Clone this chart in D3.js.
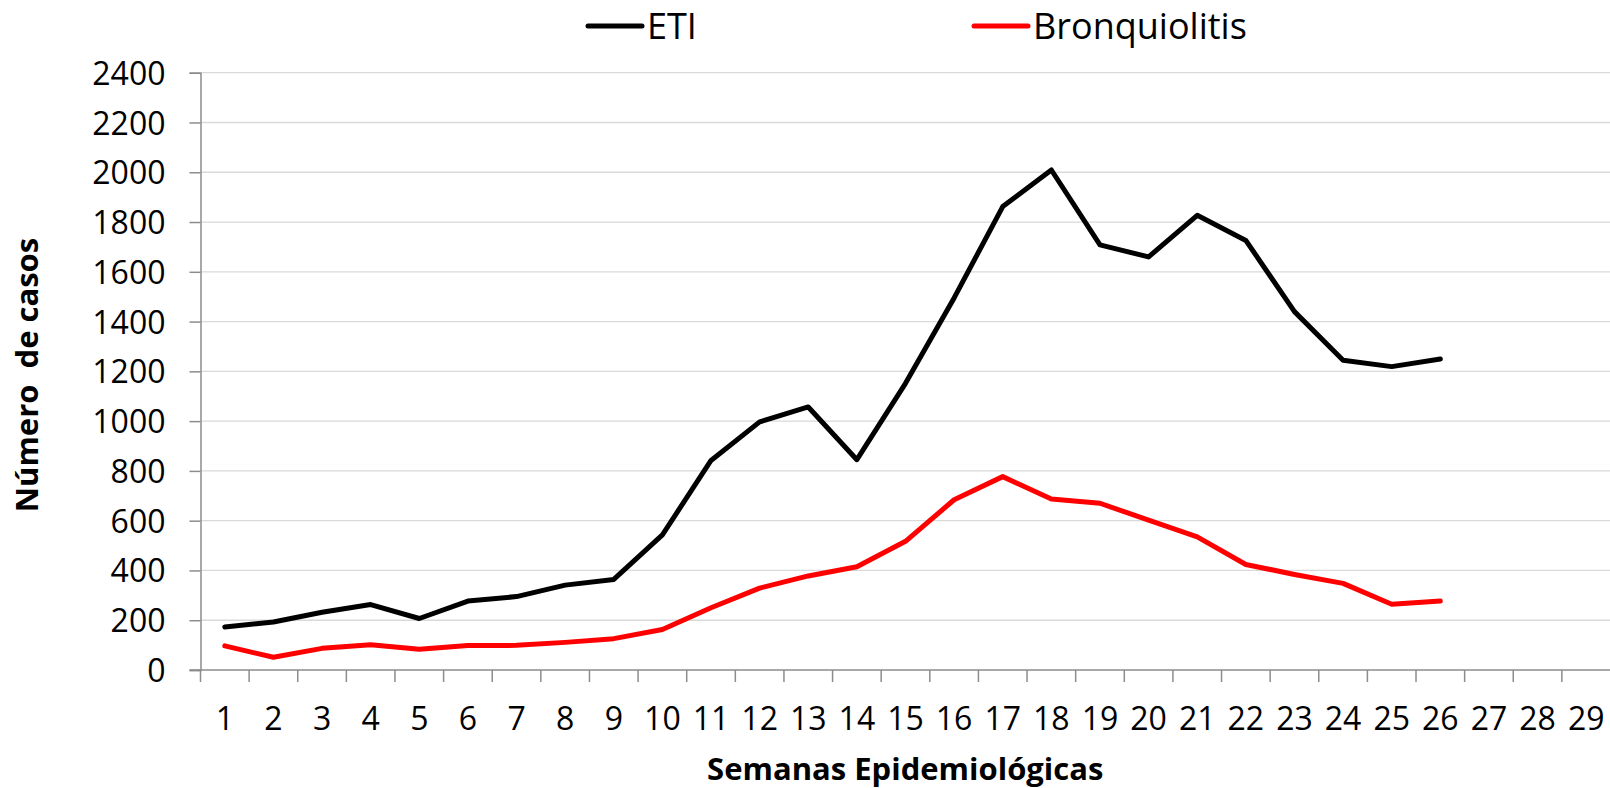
<!DOCTYPE html>
<html>
<head>
<meta charset="utf-8">
<script src="https://cdn.jsdelivr.net/npm/d3@7"></script>
<style>
  html, body { margin: 0; padding: 0; background: #fff; }
  svg { display: block; font-family: "Open Sans", sans-serif; }
  text { white-space: pre; }
</style>
</head>
<body>
<svg id="chart" width="1610" height="788"></svg>
<script>
// semanas epidemiológicas 1..29
const weeks = d3.range(1, 30).map(String);
const yTicks = [0, 200, 400, 600, 800, 1000, 1200, 1400, 1600, 1800, 2000, 2200, 2400];

// valores (semanas 1..26)
const eti = [173, 193, 232, 263, 207, 277, 295, 341, 364, 543, 842, 997, 1057, 845, 1152, 1495,
             1862, 2009, 1708, 1660, 1827, 1726, 1440, 1245, 1219, 1250];
const bronquiolitis = [97, 51, 87, 101, 83, 98, 99, 111, 126, 163, 250, 329, 378, 415, 517, 684,
                       777, 687, 670, 602, 535, 424, 384, 348, 264, 277];

const seriesNames = ["ETI", "Bronquiolitis"];
const seriesColors = ["#000000", "#ff0000"];

const svg = d3.select("#chart");
const margin = {top: 72.7, right: 0, bottom: 118, left: 200.5};
const width = 1610, height = 788;

const x = d3.scaleBand()
    .domain(weeks)
    .range([margin.left, 1610.5]);

const y = d3.scaleLinear()
    .domain([0, 2400])
    .range([670, margin.top]);

// gridlines
svg.append("g")
    .selectAll("line")
    .data(yTicks.filter(d => d > 0))
    .join("line")
    .attr("x1", margin.left)
    .attr("x2", width)
    .attr("y1", d => y(d))
    .attr("y2", d => y(d))
    .attr("stroke", "#d9d9d9")
    .attr("stroke-width", 1.3);

// eje Y
const yAxis = svg.append("g")
    .attr("transform", `translate(${margin.left},0)`)
    .call(d3.axisLeft(y).tickValues(yTicks).tickFormat(d3.format("d")).tickSize(11).tickPadding(24));
yAxis.select(".domain").attr("stroke", "#8c8c8c").attr("stroke-width", 1.5);
yAxis.selectAll(".tick line").attr("stroke", "#8c8c8c").attr("stroke-width", 1.5);
yAxis.selectAll(".tick text")
    .attr("font-family", "Open Sans")
    .attr("font-size", 32)
    .attr("fill", "#000")
    .attr("dy", "0.36em");

// eje X (ticks entre categorías)
const xAxis = svg.append("g")
    .attr("transform", `translate(0,${y(0)})`);
xAxis.append("line")
    .attr("x1", margin.left - 11)
    .attr("x2", width)
    .attr("stroke", "#8c8c8c")
    .attr("stroke-width", 1.5);
xAxis.selectAll(".xtick")
    .data(weeks)
    .join("line")
    .attr("class", "xtick")
    .attr("x1", d => x(d))
    .attr("x2", d => x(d))
    .attr("y1", 0)
    .attr("y2", 12)
    .attr("stroke", "#8c8c8c")
    .attr("stroke-width", 1.5);
xAxis.selectAll(".xlabel")
    .data(weeks)
    .join("text")
    .attr("class", "xlabel")
    .attr("x", d => x(d) + x.bandwidth() / 2)
    .attr("y", 60)
    .attr("text-anchor", "middle")
    .attr("font-size", 32)
    .attr("fill", "#000")
    .text(d => d);

// líneas
const line = d3.line()
    .x((d, i) => x(weeks[i]) + x.bandwidth() / 2)
    .y(d => y(d));

[eti, bronquiolitis].forEach((vals, k) => {
    svg.append("path")
        .datum(vals)
        .attr("fill", "none")
        .attr("stroke", seriesColors[k])
        .attr("stroke-width", 5)
        .attr("stroke-linejoin", "round")
        .attr("stroke-linecap", "round")
        .attr("d", line);
});

// títulos de ejes
svg.append("text")
    .attr("x", (margin.left + width) / 2)
    .attr("y", 780)
    .attr("text-anchor", "middle")
    .attr("font-size", 31)
    .attr("font-weight", "bold")
    .text("Semanas Epidemiológicas");

svg.append("text")
    .attr("transform", "translate(38,375) rotate(-90)")
    .attr("text-anchor", "middle")
    .attr("font-size", 31)
    .attr("font-weight", "bold")
    .text("Número  de casos");

// leyenda
const legendX = [588, 974];
const legend = svg.append("g");
seriesNames.forEach((name, k) => {
    legend.append("line")
        .attr("x1", legendX[k])
        .attr("x2", legendX[k] + 54)
        .attr("y1", 26)
        .attr("y2", 26)
        .attr("stroke", seriesColors[k])
        .attr("stroke-width", 5)
        .attr("stroke-linecap", "round");
    legend.append("text")
        .attr("x", legendX[k] + 59)
        .attr("y", 39)
        .attr("font-size", 36)
        .attr("fill", "#000")
        .text(name);
});
</script>
</body>
</html>
